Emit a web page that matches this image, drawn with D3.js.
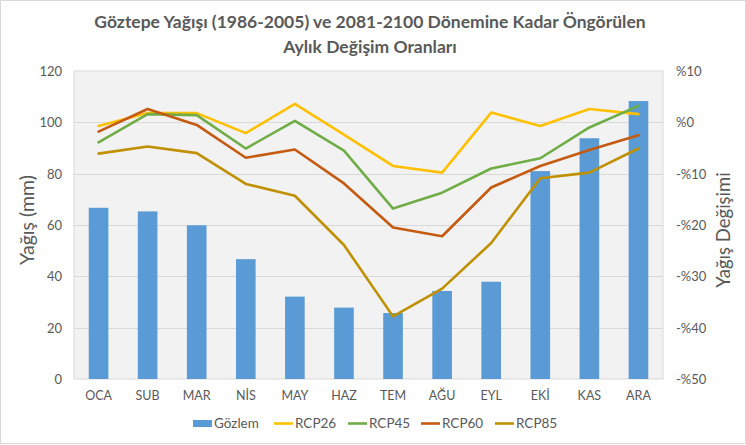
<!DOCTYPE html>
<html><head><meta charset="utf-8">
<script src="https://cdn.jsdelivr.net/npm/d3@7"></script>
<style>body{margin:0;background:#fff}svg{display:block}text{font-family:Lato,"Open Sans",sans-serif}</style>
</head><body><svg id="c" width="746" height="445"></svg>
<script>
const months = ["OCA","SUB","MAR","NİS","MAY","HAZ","TEM","AĞU","EYL","EKİ","KAS","ARA"];
const gozlem = [66.7, 65.3, 59.9, 46.7, 32.1, 27.8, 25.7, 34.3, 37.9, 81.0, 93.8, 108.3];
const rcp26 = [-0.7, 1.8, 1.8, -2.1, 3.6, -2.4, -8.5, -9.8, 1.9, -0.7, 2.6, 1.6];
const rcp45 = [-3.9, 1.6, 1.4, -5.1, 0.3, -5.5, -16.8, -13.7, -9.0, -7.0, -1.0, 3.2];
const rcp60 = [-1.8, 2.6, -0.5, -6.9, -5.3, -11.9, -20.5, -22.2, -12.7, -8.5, -5.4, -2.5];
const rcp85 = [-6.1, -4.7, -6.0, -12.0, -14.3, -23.9, -37.8, -32.4, -23.5, -10.9, -9.8, -5.1];
const leftTicks = [0, 20, 40, 60, 80, 100, 120];
const rightTicks = [-50, -40, -30, -20, -10, 0, 10];
const seriesNames = ["RCP26","RCP45","RCP60","RCP85"];
const seriesColors = ["#ffc000","#70ad47","#c55a11","#bf9000"];
const seriesData = [rcp26, rcp45, rcp60, rcp85];
const title = ["Göztepe Yağışı (1986-2005) ve 2081-2100 Dönemine Kadar Öngörülen","Aylık Değişim Oranları"];

const svg = d3.select("#c");
const L = 74, R = 663, T = 71, B = 379;
svg.append("rect").attr("x",0.5).attr("y",0.5).attr("width",745).attr("height",443)
  .attr("fill","#fff").attr("stroke","#d9d9d9");

const x = d3.scaleBand().domain(months).range([L, R]).paddingInner(0).paddingOuter(0);
const yL = d3.scaleLinear().domain([0,120]).range([B, T]);
const yR = d3.scaleLinear().domain([-50,10]).range([B, T]);

svg.append("rect").attr("x",L).attr("y",T).attr("width",R-L).attr("height",B-T)
  .attr("fill","#f2f2f2").attr("stroke","#d9d9d9");

// gridlines
svg.append("g").selectAll("line").data(leftTicks.slice(1,-1)).join("line")
  .attr("x1",L).attr("x2",R).attr("y1",d=>Math.round(yL(d))+0.5).attr("y2",d=>Math.round(yL(d))+0.5)
  .attr("stroke","#d9d9d9").attr("stroke-width",1);

// bars
const bw = x.bandwidth()/2.5;
svg.append("g").selectAll("rect").data(gozlem).join("rect")
  .attr("x",(d,i)=>x(months[i])+x.bandwidth()/2-bw/2)
  .attr("y",d=>yL(d)).attr("width",bw).attr("height",d=>B-yL(d))
  .attr("fill","#5b9bd5");

// lines
const line = d3.line().x((d,i)=>x(months[i])+x.bandwidth()/2).y(d=>yR(d));
seriesData.forEach((s,k)=>{
  svg.append("path").datum(s).attr("d",line).attr("fill","none")
    .attr("stroke",seriesColors[k]).attr("stroke-width",2.6).attr("stroke-linejoin","round").attr("stroke-linecap","round");
});

// axes
const axL = d3.axisLeft(yL).tickValues(leftTicks).tickSize(0).tickPadding(0);
const gL = svg.append("g").attr("transform",`translate(${L-12},0)`).call(axL);
gL.select(".domain").remove();
gL.selectAll("text").attr("fill","#595959").style("font-size","13px").attr("dy","0.35em");

const axR = d3.axisRight(yR).tickValues(rightTicks).tickSize(0).tickPadding(0)
  .tickFormat(d=> d<0 ? "-%"+(-d) : "%"+d);
const gR = svg.append("g").attr("transform",`translate(${R+13},0)`).call(axR);
gR.select(".domain").remove();
gR.selectAll("text").attr("fill","#595959").style("font-size","13px").attr("dy","0.35em");

const axB = d3.axisBottom(x).tickSize(0).tickPadding(0);
const gB = svg.append("g").attr("transform",`translate(0,${B+10})`).call(axB);
gB.select(".domain").remove();
gB.selectAll("text").attr("fill","#595959").style("font-size","12.5px").attr("dy","0.9em");

// axis titles
svg.append("text").attr("transform",`translate(34,${(T+B)/2-5}) rotate(-90)`)
  .attr("text-anchor","middle").attr("fill","#595959").style("font-size","19.5px").text("Yağış (mm)");
svg.append("text").attr("transform",`translate(730,${(T+B)/2+5}) rotate(-90)`)
  .attr("text-anchor","middle").attr("fill","#595959").style("font-size","18.5px").text("Yağış Değişimi");

// title
title.forEach((t,i)=>{
  svg.append("text").attr("x",370).attr("y",28+i*25).attr("text-anchor","middle")
    .attr("fill","#595959").style("font-size","17.5px").style("font-weight","bold").text(t);
});

// legend
const lg = svg.append("g");
lg.append("rect").attr("x",193).attr("y",420).attr("width",19).attr("height",7).attr("fill","#5b9bd5");
lg.append("text").attr("x",214).attr("y",428).attr("fill","#595959").style("font-size","13.5px").text("Gözlem");
const lx = [274, 348, 421, 495];
seriesNames.forEach((n,k)=>{
  lg.append("line").attr("x1",lx[k]).attr("x2",lx[k]+19).attr("y1",423.5).attr("y2",423.5)
    .attr("stroke",seriesColors[k]).attr("stroke-width",2.6);
  lg.append("text").attr("x",lx[k]+21).attr("y",428).attr("fill","#595959").style("font-size","13.5px").text(n);
});
</script></body></html>
